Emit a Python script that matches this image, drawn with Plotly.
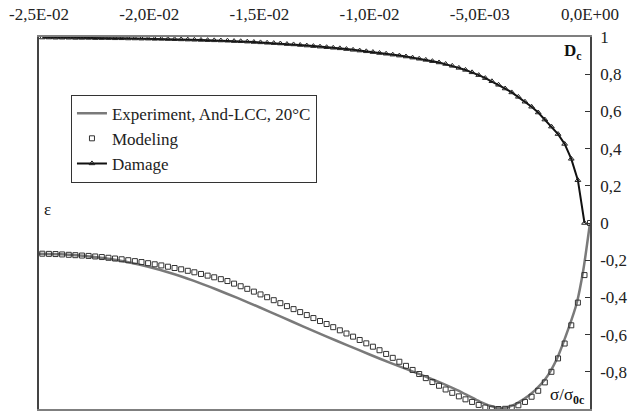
import plotly.graph_objects as go

# ---- data (strain magnitude in units of 1e-3, compressive -> negative strain) ----
GRID_PERMIL = [0.25, 0.55, 0.85, 1.15, 1.45, 1.75, 2.05, 2.35, 2.65, 2.95,
               3.25, 3.55, 3.85, 4.15, 4.45, 4.75, 5.05, 5.35, 5.65, 5.95,
               6.25, 6.55, 6.85, 7.15, 7.45, 7.75, 8.05, 8.35, 8.65, 8.95,
               9.25, 9.55, 9.85, 10.15, 10.45, 10.75, 11.05, 11.35, 11.65, 11.95,
               12.25, 12.55, 12.85, 13.15, 13.45, 13.75, 14.05, 14.35, 14.65, 14.95,
               15.25, 15.55, 15.85, 16.15, 16.45, 16.75, 17.05, 17.35, 17.65, 17.95,
               18.25, 18.55, 18.85, 19.15, 19.45, 19.75, 20.05, 20.35, 20.65, 20.95,
               21.25, 21.55, 21.85, 22.15, 22.45, 22.75, 23.05, 23.35, 23.65, 23.95,
               24.25, 24.55, 24.85]

DAMAGE = [0.0, 0.23, 0.345, 0.425, 0.478, 0.518, 0.556, 0.594, 0.625, 0.652,
          0.678, 0.702, 0.723, 0.743, 0.762, 0.779, 0.795, 0.810, 0.823, 0.834,
          0.845, 0.855, 0.863, 0.870, 0.877, 0.883, 0.889, 0.895, 0.900, 0.905,
          0.910, 0.914, 0.919, 0.923, 0.927, 0.931, 0.935, 0.939, 0.942, 0.945,
          0.948, 0.951, 0.954, 0.957, 0.960, 0.962, 0.965, 0.967, 0.969, 0.971,
          0.973, 0.975, 0.977, 0.978, 0.980, 0.981, 0.982, 0.983, 0.984, 0.985,
          0.986, 0.987, 0.988, 0.989, 0.990, 0.990, 0.991, 0.991, 0.992, 0.992,
          0.993, 0.993, 0.994, 0.994, 0.994, 0.995, 0.995, 0.995, 0.996, 0.996,
          0.996, 0.997, 0.997]

MODEL_PERMIL = [0.0] + GRID_PERMIL
MODEL_STRESS = [0.0,
                -0.28, -0.428, -0.55, -0.648, -0.728, -0.80, -0.857, -0.902, -0.934, -0.962,
                -0.98, -0.993, -0.999, -1.0, -0.998, -0.992, -0.978, -0.962, -0.948, -0.932,
                -0.913, -0.895, -0.875, -0.855, -0.834, -0.812, -0.79, -0.768, -0.746, -0.725,
                -0.704, -0.684, -0.665, -0.647, -0.629, -0.611, -0.594, -0.577, -0.56, -0.543,
                -0.527, -0.511, -0.495, -0.479, -0.463, -0.447, -0.431, -0.415, -0.399, -0.384,
                -0.369, -0.354, -0.34, -0.326, -0.312, -0.302, -0.292, -0.283, -0.274, -0.265,
                -0.257, -0.249, -0.242, -0.235, -0.228, -0.222, -0.216, -0.21, -0.205, -0.2,
                -0.195, -0.191, -0.187, -0.183, -0.18, -0.177, -0.175, -0.173, -0.171, -0.169,
                -0.167, -0.166, -0.165]

EXP_PERMIL = [25, 24, 23, 22, 21, 20, 19, 18, 17, 16, 15, 14, 13, 12, 11, 10, 9, 8, 7,
              6.5, 6, 5.5, 5, 4.5, 4, 3.5, 3, 2.5, 2, 1.5, 1.0, 0.6, 0.3, 0]
EXP_STRESS = [-0.165, -0.168, -0.176, -0.19, -0.21, -0.237, -0.27, -0.31, -0.355, -0.403,
              -0.453, -0.505, -0.557, -0.608, -0.658, -0.707, -0.755, -0.80, -0.848,
              -0.873, -0.9, -0.93, -0.96, -0.984, -0.997, -0.98, -0.947, -0.90,
              -0.835, -0.73, -0.575, -0.43, -0.25, 0.0]

X_TICKS = [-0.025, -0.02, -0.015, -0.01, -0.005, 0.0]
X_TICKTEXT = ["-2,5E-02", "-2,0E-02", "-1,5E-02", "-1,0E-02", "-5,0E-03", "0,0E+00"]
Y_TICKS = [1, 0.8, 0.6, 0.4, 0.2, 0, -0.2, -0.4, -0.6, -0.8, -1]
Y_TICKTEXT = ["1", "0,8", "0,6", "0,4", "0,2", "0", "-0,2", "-0,4", "-0,6", "-0,8", "-1"]

def to_strain(vals):
    return [-v / 1000.0 for v in vals]

FONT = "Liberation Serif"
TXT = "#222222"

fig = go.Figure()
fig.add_trace(go.Scatter(
    x=to_strain(EXP_PERMIL), y=EXP_STRESS, mode="lines",
    name="Experiment, And-LCC, 20°C",
    line=dict(color="#7a7a7a", width=2.5, shape="spline", smoothing=0.6)))
fig.add_trace(go.Scatter(
    x=to_strain(MODEL_PERMIL), y=MODEL_STRESS, mode="markers", name="Modeling",
    marker=dict(symbol="square-open", size=5, color="#333333", line=dict(width=1))))
fig.add_trace(go.Scatter(
    x=to_strain(GRID_PERMIL), y=DAMAGE, mode="lines+markers", name="Damage",
    line=dict(color="#111111", width=2),
    marker=dict(symbol="triangle-up-open", size=5, color="#222222", line=dict(width=1))))

fig.update_layout(
    width=630, height=413,
    margin=dict(l=39, r=36, t=37, b=2),
    paper_bgcolor="white", plot_bgcolor="white",
    font=dict(family=FONT, size=17, color=TXT),
    showlegend=True,
    legend=dict(x=0.058, y=0.845, xanchor="left", yanchor="top",
                bgcolor="white", bordercolor="#333333", borderwidth=1,
                font=dict(family=FONT, size=17, color=TXT),
                itemwidth=30, tracegroupgap=0),
    xaxis=dict(range=[-0.025, 0.0], side="top", tickvals=X_TICKS, ticktext=X_TICKTEXT,
               ticks="", ticklabelstandoff=8, showgrid=False, zeroline=False,
               showline=True, linecolor="#7f7f7f", linewidth=2, mirror=True,
               tickfont=dict(family=FONT, size=17, color=TXT)),
    xaxis2=dict(range=[-0.025, 0.0], overlaying="x", anchor="free", position=0.5,
                side="bottom", tickvals=X_TICKS, showticklabels=False,
                ticks="outside", ticklen=4, tickcolor="#555555", tickwidth=1,
                showline=True, linecolor="#8a8a8a", linewidth=2,
                showgrid=False, zeroline=False),
    yaxis=dict(range=[-1, 1], side="right", tickvals=Y_TICKS, ticktext=Y_TICKTEXT,
               ticks="inside", ticklen=5, tickcolor="#333333", tickwidth=1,
               ticklabelstandoff=5,
               showgrid=False, zeroline=False, showline=True, linecolor="#444444",
               linewidth=1.5, mirror=True,
               tickfont=dict(family=FONT, size=17, color=TXT)),
    annotations=[
        dict(text="<b>D<sub>c</sub></b>", xref="paper", yref="paper", x=0.969, y=0.96,
             xanchor="center", yanchor="middle",
             showarrow=False, font=dict(family=FONT, size=17, color="#111111")),
        dict(text="ε", xref="paper", yref="paper", x=0.0153, y=0.537,
             xanchor="center", yanchor="middle",
             showarrow=False, font=dict(family=FONT, size=17, color="#111111")),
        dict(text="σ/σ<sub><b>0c</b></sub>", xref="paper", yref="paper", x=0.958, y=0.035,
             xanchor="center", yanchor="middle",
             showarrow=False, font=dict(family=FONT, size=17, color="#111111")),
    ],
)

fig.write_html("out.html")
